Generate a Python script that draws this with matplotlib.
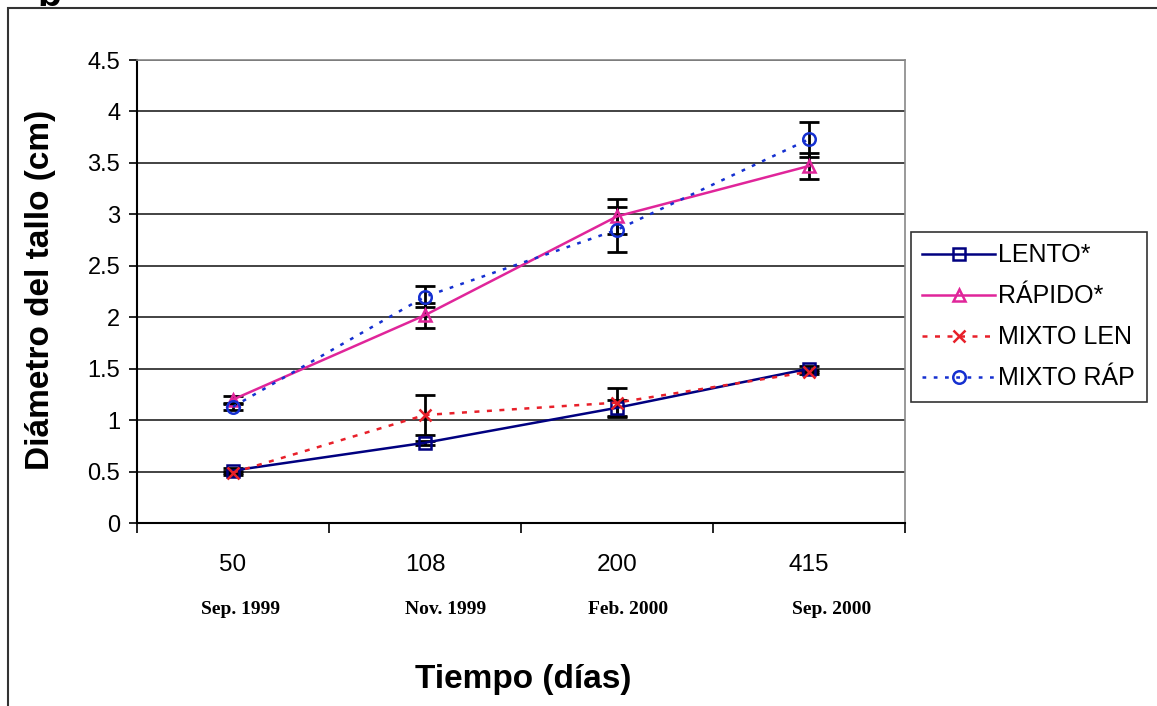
import matplotlib
matplotlib.use("Agg")
import matplotlib.pyplot as plt
from matplotlib.patches import Rectangle
import matplotlib.transforms as mtransforms

plt.rcParams['font.family'] = ['Liberation Sans', 'DejaVu Sans']

# data
dias = ['50', '108', '200', '415']
fechas = ['Sep. 1999', 'Nov. 1999', 'Feb. 2000', 'Sep. 2000']

lento = [0.51, 0.78, 1.12, 1.50]
lento_err = [0.02, 0.02, 0.08, 0.03]
rapido = [1.20, 2.02, 2.98, 3.47]
rapido_err = [0.03, 0.12, 0.17, 0.13]
mixto_len = [0.49, 1.05, 1.17, 1.47]
mixto_len_err = [0.02, 0.19, 0.14, 0.02]
mixto_rap = [1.13, 2.20, 2.85, 3.73]
mixto_rap_err = [0.03, 0.10, 0.22, 0.17]

fig = plt.figure(figsize=(11.57, 7.06), dpi=100)
ax = fig.add_axes([0.1184, 0.2592, 0.6638, 0.6558])

x = list(range(len(dias)))

series = [
    (lento, lento_err, 'LENTO*', '#000080', '-', 's', 'none'),
    (rapido, rapido_err, 'RÁPIDO*', '#E0259A', '-', '^', 'none'),
    (mixto_len, mixto_len_err, 'MIXTO LEN', '#E8202A', (0, (2, 3)), 'x', None),
    (mixto_rap, mixto_rap_err, 'MIXTO RÁP', '#1530D0', (0, (1.5, 3)), 'o', 'none'),
]

for y, err, name, col, ls, mk, mfc in series:
    ax.errorbar(x, y, yerr=err, fmt='none', ecolor='black', elinewidth=2,
                capsize=7, capthick=2, zorder=3)
    kw = dict(markerfacecolor=mfc) if mfc else {}
    ax.plot(x, y, color=col, linestyle=ls, linewidth=1.8, marker=mk,
            markersize=9, markeredgewidth=1.8, markeredgecolor=col,
            label=name, zorder=4, **kw)

ax.set_xlim(-0.5, 3.5)
ax.set_ylim(0, 4.5)
ax.set_yticks([i * 0.5 for i in range(10)])
ax.set_yticklabels(['0', '0.5', '1', '1.5', '2', '2.5', '3', '3.5', '4', '4.5'])
ax.yaxis.grid(True, color='#222222', linewidth=1.2)
ax.set_axisbelow(True)

ax.set_xticks(x)
ax.set_xticklabels(dias)
ax.set_xticks([-0.5, 0.5, 1.5, 2.5, 3.5], minor=True)
ax.tick_params(axis='x', which='major', length=0, pad=22, labelsize=17.5)
ax.tick_params(axis='x', which='minor', length=7, width=1.2, direction='out')
ax.tick_params(axis='y', length=6, width=1.2, direction='out', labelsize=17, pad=6)

for s in ['top', 'right']:
    ax.spines[s].set_color('#888888')
    ax.spines[s].set_linewidth(1.2)
for s in ['left', 'bottom']:
    ax.spines[s].set_color('black')
    ax.spines[s].set_linewidth(1.5)

trans = mtransforms.blended_transform_factory(ax.transData, ax.transAxes)
date_shift = [0.04, 0.11, 0.06, 0.12]
for i, f in enumerate(fechas):
    ax.text(i + date_shift[i], -0.187, f, transform=trans, ha='center', va='center',
            fontsize=14, fontweight='bold', family=['Liberation Serif', 'DejaVu Serif'])

fig.text(0.452, 0.037, 'Tiempo (días)', ha='center', va='center',
         fontsize=24, fontweight='bold')
fig.text(0.035, 0.59, 'Diámetro del tallo (cm)', ha='center', va='center',
         rotation=90, fontsize=24, fontweight='bold')

leg = fig.legend(loc='upper left', bbox_to_anchor=(911 / 1157, 1 - 232 / 706),
                 fontsize=18, handlelength=2.9, handletextpad=0.15,
                 labelspacing=0.68, borderpad=0.45, borderaxespad=0,
                 frameon=True, fancybox=False)
leg.get_frame().set_edgecolor('black')
leg.get_frame().set_linewidth(1.2)

fig.patches.append(Rectangle((8 / 1157, -0.05), 1.2, 1 - 8 / 706 + 0.05,
                             transform=fig.transFigure, fill=False,
                             edgecolor='#333333', linewidth=1.5))
fig.text(0.032, 1 - 6 / 706, 'b', ha='left', va='baseline', fontsize=28,
         fontweight='bold')

fig.savefig('out.png', dpi=100)
